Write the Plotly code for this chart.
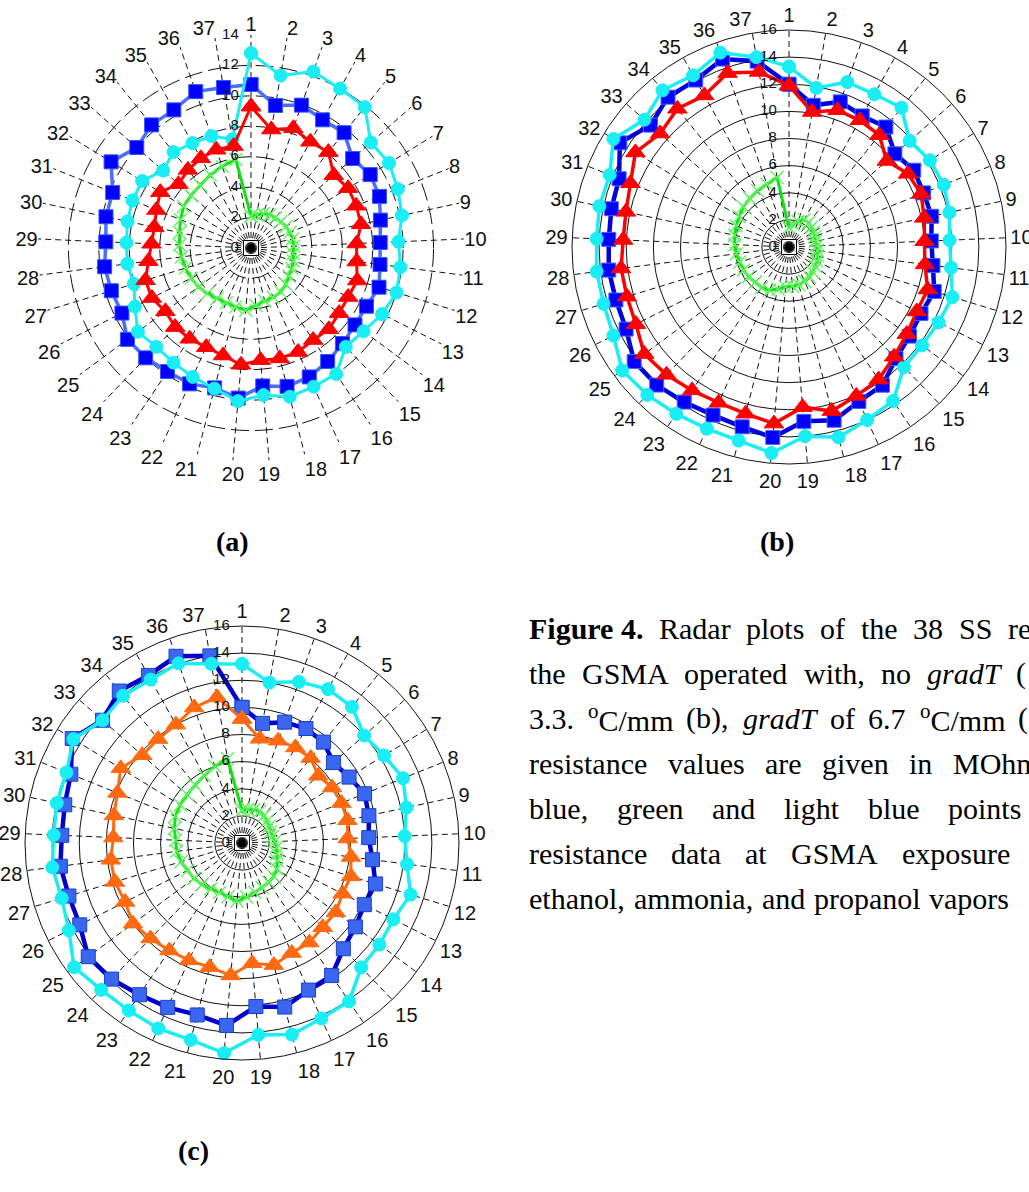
import plotly.graph_objects as go

# ---------------- data ----------------
sensors = [str(i) for i in range(1, 38)]

a_blue = [10.75, 9.5, 9.96, 9.65, 9.74, 8.9, 9.2, 9.1, 8.7, 8.5, 8.55, 8.8, 8.5, 8.5, 8.7, 9.0, 9.3, 9.4, 9.1,
          9.9, 9.5, 9.8, 9.8, 10.0, 10.1, 9.5, 9.6, 9.7, 9.55, 9.75, 9.8, 10.8, 10.0, 10.4, 10.4, 10.9, 10.7]
a_cyan = [12.8, 11.5, 12.3, 12.0, 11.9, 10.5, 10.65, 10.4, 10.15, 9.7, 9.9, 10.0, 9.65, 9.2, 9.0, 10.0, 10.0, 10.1, 9.7,
          10.1, 9.55, 9.3, 9.1, 9.0, 9.25, 8.55, 8.05, 8.2, 8.2, 8.3, 8.4, 8.4, 7.7, 8.1, 7.9, 7.8, 7.25]
a_red = [9.3, 7.9, 8.35, 8.0, 8.1, 7.25, 7.5, 7.45, 7.4, 6.95, 7.0, 7.3, 7.15, 7.2, 7.4, 7.3, 7.5, 7.5, 7.4,
         7.7, 7.3, 7.15, 7.2, 7.2, 7.0, 7.3, 7.25, 6.8, 6.55, 6.5, 6.7, 7.0, 6.35, 6.6, 6.75, 6.85, 6.8]
a_green = [2.1, 2.2, 2.4, 2.5, 2.55, 2.6, 2.7, 2.75, 2.8, 2.8, 2.8, 2.9, 3.0, 3.1, 3.3, 3.5, 3.55, 3.6, 3.8,
           4.1, 4.0, 3.95, 4.0, 4.15, 4.3, 4.4, 4.5, 4.6, 4.7, 4.8, 5.0, 5.2, 5.25, 5.3, 5.5, 5.7, 5.9]

b_blue = [12.0, 10.6, 11.35, 11.07, 11.37, 10.4, 10.8, 10.7, 10.76, 10.5, 10.7, 11.2, 10.9, 11.05, 11.4, 12.3, 12.5,
          13.2, 12.9, 14.1, 13.7, 13.6, 13.8, 14.1, 14.2, 13.45, 13.35, 13.4, 13.3, 13.4, 13.5, 14.65, 13.6, 14.2,
          14.1, 14.7, 13.9]
b_cyan = [13.3, 11.9, 12.9, 12.9, 13.2, 11.85, 12.2, 12.3, 12.1, 11.85, 12.05, 12.6, 12.35, 12.2, 12.25, 13.7, 14.0,
          14.5, 14.0, 15.25, 14.75, 14.7, 14.85, 15.1, 15.3, 14.5, 14.3, 14.3, 14.2, 14.3, 14.25, 15.2, 14.2, 14.85,
          14.5, 15.2, 14.2]
b_red = [11.9, 10.1, 10.7, 10.7, 10.6, 9.6, 10.3, 10.5, 10.2, 10.0, 10.1, 10.7, 10.55, 10.8, 11.2, 11.8, 12.05, 12.5,
         11.85, 13.07, 12.7, 12.6, 12.76, 13.05, 13.27, 12.64, 12.5, 12.48, 12.24, 12.3, 12.6, 13.3, 12.66, 13.1,
         12.8, 13.6, 13.1]
b_green = [1.4, 1.7, 2.0, 2.3, 2.3, 2.2, 2.1, 2.05, 2.0, 2.05, 2.1, 2.2, 2.3, 2.4, 2.5, 2.7, 2.8, 2.85, 2.9,
           2.95, 3.2, 3.5, 3.6, 3.6, 3.7, 3.75, 3.8, 3.9, 4.0, 4.1, 4.2, 4.3, 4.5, 4.6, 4.75, 4.9, 5.2]

c_blue = [10.0, 8.95, 9.45, 9.67, 9.56, 8.98, 9.27, 9.74, 9.57, 9.35, 9.7, 10.3, 10.1, 10.4, 10.8, 11.8, 11.9, 12.5,
          12.1, 13.5, 13.1, 13.3, 13.5, 13.9, 14.1, 13.4, 13.35, 13.5, 13.3, 13.37, 13.6, 14.7, 13.7, 14.4, 14.15,
          14.6, 14.0]
c_cyan = [13.2, 12.0, 12.6, 13.0, 12.9, 12.0, 12.3, 12.8, 12.4, 12.0, 12.27, 13.0, 12.5, 12.6, 12.7, 14.1, 14.2,
          14.6, 14.2, 15.55, 15.0, 15.0, 14.9, 15.0, 15.4, 14.3, 13.9, 14.1, 13.9, 13.97, 13.95, 14.6, 13.7, 13.96,
          13.8, 14.05, 13.4]
c_orange = [9.15, 7.8, 8.0, 8.07, 8.05, 7.5, 7.8, 7.9, 7.95, 7.8, 8.1, 8.4, 8.3, 8.6, 8.6, 8.86, 8.9, 9.3, 8.9,
            9.8, 9.46, 9.5, 9.57, 9.75, 10.0, 9.65, 9.8, 9.75, 9.5, 9.66, 9.9, 10.5, 9.8, 9.85, 10.0, 10.6, 10.9]
c_green = [2.4, 2.5, 2.6, 2.7, 2.6, 2.45, 2.35, 2.3, 2.3, 2.4, 2.55, 2.7, 2.9, 3.2, 3.4, 3.5, 3.6, 3.75, 4.0,
           4.3, 4.1, 4.0, 4.1, 4.25, 4.4, 4.5, 4.7, 4.85, 4.9, 5.1, 5.3, 5.35, 5.4, 5.5, 5.7, 6.0, 6.3]

a_rticks = [0, 2, 4, 6, 8, 10, 12, 14]
bc_rticks = [0, 2, 4, 6, 8, 10, 12, 14, 16]

panel_labels = ["(a)", "(b)", "(c)"]

caption_words = [
    ["<b>Figure 4.</b>", "Radar", "plots", "of", "the", "38", "SS", "re"],
    ["the", "GSMA", "operated", "with,", "no", "<i>gradT</i>", "("],
    ["3.3.", "<sup>o</sup>C/mm", "(b),", "<i>gradT</i>", "of", "6.7", "<sup>o</sup>C/mm", "("],
    ["resistance", "values", "are", "given", "in", "MOhm"],
    ["blue,", "green", "and", "light", "blue", "points"],
    ["resistance", "data", "at", "GSMA", "exposure"],
    ["ethanol,", "ammonia,", "and", "propanol", "vapors"],
]

# ---------------- layout constants ----------------
W, H = 1029, 1192
caption_x = [
    [528, 658, 745, 819, 860, 912, 958, 1007],
    [528, 581, 683, 803, 880, 926, 1015],
    [528, 587, 685, 742, 829, 867, 919, 1017],
    [528, 667, 764, 821, 908, 952],
    [528, 616, 711, 783, 867, 947],
    [528, 670, 744, 790, 901],
    [528, 633, 761, 813, 928],
]
caption_base = [638 + 45 * k for k in range(7)]
CAP_FS = 30

def closed(v):
    return list(v) + [v[0]]

th = closed(sensors)

fig = go.Figure()

def add_series(sub, r, color, symbol, size, lw, mcolor=None, mline=None):
    fig.add_trace(go.Scatterpolar(
        r=closed(r), theta=th, subplot=sub, mode="lines+markers",
        line=dict(color=color, width=lw),
        marker=dict(symbol=symbol, size=size, color=mcolor or color,
                    line=dict(color=mline or (mcolor or color), width=1)),
        showlegend=False, hoverinfo="skip"))

def add_green(sub, r):
    fig.add_trace(go.Scatterpolar(
        r=closed(r), theta=th, subplot=sub, mode="lines+markers",
        line=dict(color="#11e011", width=3),
        marker=dict(symbol="x-thin", size=13, color="#5cf55c",
                    line=dict(color="#5cf55c", width=1.4)),
        showlegend=False, hoverinfo="skip"))

def add_center_and_labels(sub, ticks):
    fig.add_trace(go.Scatterpolar(
        r=[0], theta=[sensors[0]], subplot=sub, mode="markers",
        marker=dict(symbol="square-open", size=15, color="black", line=dict(width=1, color="black")),
        showlegend=False, hoverinfo="skip"))
    fig.add_trace(go.Scatterpolar(
        r=[0], theta=[sensors[0]], subplot=sub, mode="markers",
        marker=dict(symbol="square", size=7, color="black"),
        showlegend=False, hoverinfo="skip"))
    fig.add_trace(go.Scatterpolar(
        r=ticks, theta=[sensors[0]] * len(ticks), subplot=sub, mode="markers+text",
        text=[str(t) for t in ticks], textposition="middle left",
        textfont=dict(family="Liberation Sans", size=15, color="#111"),
        marker=dict(size=18, opacity=0), cliponaxis=False,
        showlegend=False, hoverinfo="skip"))

# (a)
add_series("polar", a_blue, "#4a6cff", "square", 14, 3.5, mcolor="#0000ff", mline="#3355ff")
add_series("polar", a_cyan, "#19eef5", "circle", 13, 3)
add_series("polar", a_red, "#ff0000", "triangle-up", 17, 3)
add_green("polar", a_green)
add_center_and_labels("polar", a_rticks)

# (b)
add_series("polar2", b_blue, "#0000dd", "square", 14, 4.5, mcolor="#0000ff", mline="#4466ff")
add_series("polar2", b_cyan, "#19eef5", "circle", 13, 3.5)
add_series("polar2", b_red, "#ff0000", "triangle-up", 17, 3.5)
add_green("polar2", b_green)
add_center_and_labels("polar2", bc_rticks)

# (c)
add_series("polar3", c_blue, "#0000cc", "square", 14, 4.5, mcolor="#3a66f0", mline="#1a3fd0")
add_series("polar3", c_cyan, "#19eef5", "circle", 13, 3.5)
add_series("polar3", c_orange, "#ff6a10", "triangle-up", 17, 3)
add_green("polar3", c_green)
add_center_and_labels("polar3", bc_rticks)

def dom(cx, cy, R):
    return dict(x=[(cx - R) / W, (cx + R) / W], y=[1 - (cy + R) / H, 1 - (cy - R) / H])

def polar_layout(cx, cy, R, rmax, ringdash, showline):
    return dict(
        domain=dom(cx, cy, R), bgcolor="white",
        radialaxis=dict(range=[0, rmax], dtick=2, showticklabels=False, ticks="", showline=False,
                        gridcolor="#111", gridwidth=1, griddash=ringdash),
        angularaxis=dict(type="category", categoryarray=sensors, rotation=90, direction="clockwise",
                         showline=showline, linecolor="#111", linewidth=1, ticks="",
                         gridcolor="#111", gridwidth=1, griddash="6px,4px",
                         tickfont=dict(family="Liberation Sans", size=20, color="#111")),
    )

layout = dict(
    width=W, height=H, margin=dict(l=0, r=0, t=0, b=0),
    paper_bgcolor="white", plot_bgcolor="white", showlegend=False,
    polar=polar_layout(251, 248, 213, 14, "18px,6px", False),
    polar2=polar_layout(789, 247, 217, 16, "solid", True),
    polar3=polar_layout(242, 843, 217, 16, "solid", True),
)
fig.update_layout(**layout)

anns = []
for lab, (x, y) in zip(panel_labels, [(232, 541), (777, 541), (193, 1150)]):
    anns.append(dict(text="<b>%s</b>" % lab, x=x / W, y=1 - y / H, xref="paper", yref="paper",
                     xanchor="center", yanchor="middle", showarrow=False,
                     font=dict(family="Liberation Serif", size=28, color="black")))
for words, xs, base in zip(caption_words, caption_x, caption_base):
    for w, x in zip(words, xs):
        anns.append(dict(text=w, x=x / W, y=1 - (base - 10) / H, xref="paper", yref="paper",
                         xanchor="left", yanchor="middle", showarrow=False, borderpad=0,
                         font=dict(family="Liberation Serif", size=CAP_FS, color="black")))
fig.update_layout(annotations=anns)

fig.write_html("out.html")
